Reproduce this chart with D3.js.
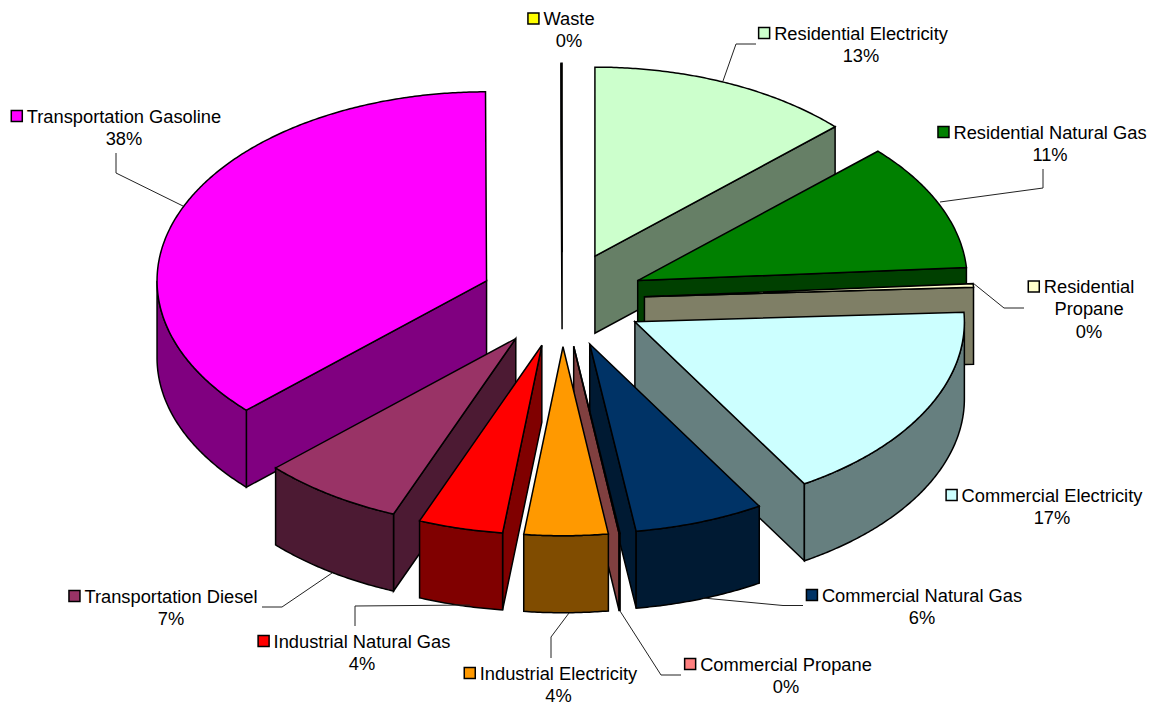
<!DOCTYPE html>
<html><head><meta charset="utf-8">
<script src="https://cdn.jsdelivr.net/npm/d3@7/dist/d3.min.js"></script>
<style>html,body{margin:0;padding:0;background:#fff}svg{display:block}text{font-family:"Liberation Sans",Arial,sans-serif;font-size:18.3px;fill:#000}</style>
</head><body><svg id="c" width="1151" height="702"></svg>
<script>
const categories=["Residential Electricity","Residential Natural Gas","Residential Propane","Commercial Electricity","Commercial Natural Gas","Commercial Propane","Industrial Electricity","Industrial Natural Gas","Transportation Diesel","Transportation Gasoline","Waste"];
const shares=[13.0,10.9,0.3,17.2,6.35,0.05,4.1,4.15,6.95,36.95,0.05];
const percentLabels=["13%","11%","0%","17%","6%","0%","4%","4%","7%","38%","0%"];
const topColors=["#CCFFCC","#008000","#FFFFCC","#CCFFFF","#003366","#FF8080","#FF9900","#FF0000","#993366","#FF00FF","#FFFF00"];
const sideColors=["#667F66","#004000","#7F7F66","#667F7F","#001A33","#804040","#804C00","#800000","#4C1A33","#800080","#7F7F00"];
const drawOrder=[0,10,1,2,3,9,8,7,4,5,6];
// label layout: centre x, first-line centre y, lines of the name
const labelLayout=[
 {cx:861,cy:33.5,lines:["Residential Electricity"]},
 {cx:1050,cy:132.5,lines:["Residential Natural Gas"]},
 {cx:1089,cy:287,lines:["Residential","Propane"]},
 {cx:1052,cy:495.5,lines:["Commercial Electricity"]},
 {cx:922,cy:595.5,lines:["Commercial Natural Gas"]},
 {cx:786,cy:664.5,lines:["Commercial Propane"]},
 {cx:558.5,cy:673.5,lines:["Industrial Electricity"]},
 {cx:362,cy:641.5,lines:["Industrial Natural Gas"]},
 {cx:171,cy:596.5,lines:["Transportation Diesel"]},
 {cx:124,cy:116.5,lines:["Transportation Gasoline"]},
 {cx:569,cy:19,lines:["Waste"]}];
const leaderLines=[
 [[723,81],[736,44],[756,44]],
 [[940,202],[1043,188],[1043,169]],
 [[973,283],[1004,308],[1024,308]],
 null,
 [[703,598],[783,605.5],[803,605.5]],
 [[620,611],[661,675],[681,675]],
 [[569,613],[551,637],[551,658]],
 [[470,605],[355,606],[355,626]],
 [[332,573],[282,607],[262,607]],
 [[183,206],[116,173],[116,153]],
 null];

const svg=d3.select("#c");
const centre={x:562.2,y:299.5},rx=329.5,ry=189,depth=77,explode=0.25;
const sx=d3.scaleLinear().domain([-1,1]).range([centre.x-rx,centre.x+rx]);
const sy=d3.scaleLinear().domain([-1,1]).range([centre.y-ry,centre.y+ry]);
const arcs=d3.pie().sort(null).value(d=>d).startAngle(0).endAngle(2*Math.PI)(shares);
const line=d3.line();
function slicePaths(a){
  const mid=(a.startAngle+a.endAngle)/2;
  const ox=explode*Math.sin(mid),oy=-explode*Math.cos(mid);
  const pt=(r,t,dz=0)=>[sx(ox+r*Math.sin(t)),sy(oy-r*Math.cos(t))+dz];
  const arcPts=(t0,t1,dz=0)=>{const n=Math.max(2,Math.ceil((t1-t0)*120));return d3.range(n+1).map(i=>pt(1,t0+(t1-t0)*i/n,dz));};
  const out=[];
  const wall=t=>[pt(0,t),pt(1,t),pt(1,t,depth),pt(0,t,depth)];
  if(Math.sin(a.startAngle)<0) out.push({k:"side",p:wall(a.startAngle)});
  if(Math.sin(a.endAngle)>0) out.push({k:"side",p:wall(a.endAngle)});
  const t0=Math.max(a.startAngle,Math.PI/2),t1=Math.min(a.endAngle,3*Math.PI/2);
  if(t1>t0) out.push({k:"side",p:arcPts(t0,t1).concat(arcPts(t0,t1,depth).reverse())});
  out.push({k:"top",p:[pt(0,a.startAngle)].concat(arcPts(a.startAngle,a.endAngle))});
  return out;
}
const g=svg.append("g");
drawOrder.forEach(i=>{
  slicePaths(arcs[i]).forEach(s=>{
    g.append("path").attr("d",line(s.p)+"Z")
     .attr("fill",s.k==="top"?topColors[i]:sideColors[i])
     .attr("stroke","#000").attr("stroke-width",1.5).attr("stroke-linejoin","miter");
  });
});
leaderLines.forEach(l=>{ if(l) svg.append("path").attr("d",line(l)).attr("fill","none").attr("stroke","#222").attr("stroke-width",1); });
categories.forEach((c,i)=>{
  const L=labelLayout[i],rows=L.lines.concat([percentLabels[i]]);
  const g2=svg.append("g");
  let first;
  rows.forEach((t,j)=>{
    const n=g2.append("text").attr("x",L.cx).attr("y",L.cy+j*22.2+6.2).attr("text-anchor","middle").text(t);
    if(j===0) first=n.node().getComputedTextLength();
  });
  g2.append("rect").attr("x",L.cx-first/2-15.5).attr("y",L.cy-6).attr("width",11).attr("height",11)
    .attr("fill",topColors[i]).attr("stroke","#000").attr("stroke-width",1.5);
});
</script></body></html>
